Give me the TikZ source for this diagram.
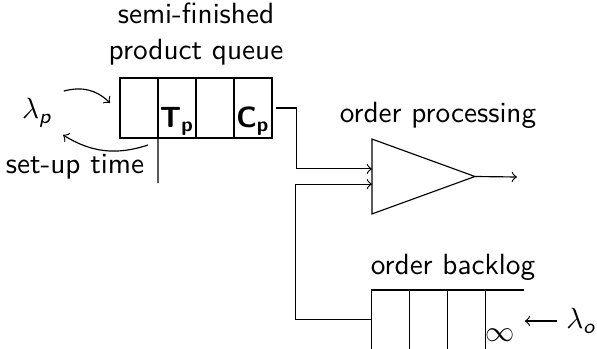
\documentclass[tikz,border=0pt]{standalone}
\usepackage{amsmath}
\usepackage{tikz}
\usetikzlibrary{positioning}
\tikzset{
  cell/.style={draw=black, minimum width=13pt, minimum height=20.5pt, inner sep=0pt, outer sep=0pt},
  slot/.style={minimum width=13pt, minimum height=20.2pt, inner sep=0pt, outer sep=0pt},
  lbl/.style={font=\sffamily, align=center, inner sep=1pt},
  arrow/.style={->, line width=0.4pt}
}

\begin{document}
\begin{tikzpicture}[x=0.342pt, y=-0.342pt]
\useasboundingbox (0,0) rectangle (597,349);
% semi-finished product queue
\node[cell] (q1) at (139,108) {};
\node[cell, right=0pt of q1] (q2) {};
\node[cell, right=0pt of q2] (q3) {};
\node[cell, right=0pt of q3] (q4) {};
\node[lbl, anchor=south, inner sep=0.6pt] (tp) at (q2.south) {\textbf{T}$_{\textbf{p}}$};
\node[lbl, anchor=south, inner sep=0.6pt] (cp) at (q4.south) {\textbf{C}$_{\textbf{p}}$};
\node[lbl] (pq) at (196,34) {semi-finished\\product queue};
\node[lbl] (lp) at (37,113) {$\lambda_{\textit{p}}$};
\node[lbl] (su) at (75,167) {set-up time};
\coordinate (sd) at (158,183);
\draw (q1.south east) -- (sd);
\draw[arrow] ([xshift=2.9pt,yshift=1.4pt]lp.north east) to[bend left=30] ([xshift=-3.4pt,yshift=1.7pt]q1.west);
\draw[arrow] ([xshift=-3.4pt,yshift=-2.4pt]q1.south east) to[bend left=25] ([xshift=2.6pt,yshift=-1.4pt]lp.south east);

% order processing
\node[minimum width=35.2pt, minimum height=25.6pt, inner sep=0pt, outer sep=0pt] (op) at (423.5,176.5) {};
\draw (op.north west) -- (op.east) -- (op.south west) -- cycle;
\node[lbl] (opl) at (438,115) {order processing};
\coordinate (po) at (517,177);
\draw[arrow] (op.east) -- (po);
\draw[arrow] ([xshift=1.4pt]q4.east) -- ++(20,0) |- ([yshift=2.6pt]op.west);

% order backlog
\node[slot] (b1) at (390.5,319.5) {};
\node[slot, right=0pt of b1] (b2) {};
\node[slot, right=0pt of b2] (b3) {};
\node[slot, right=0pt of b3] (b4) {};
\draw (b1.south west) -- (b1.north west) -- (b4.north east);
\draw (b1.north east) -- (b1.south east);
\draw (b2.north east) -- (b2.south east);
\draw (b3.north east) -- (b3.south east);
\node[lbl] (bl) at (453,267) {order backlog};
\node[lbl] (inf) at (500,335) {$\infty$};
\node[lbl] (lo) at (581,321) {$\lambda_{\textit{o}}$};
\draw[arrow] ([xshift=-2pt]lo.west) -- ([xshift=0.4pt]lo.west -| b4.east);
\draw[arrow] (b1.west) -- ++(-76,0) |- ([yshift=-2.6pt]op.west);
\end{tikzpicture}
\end{document}
